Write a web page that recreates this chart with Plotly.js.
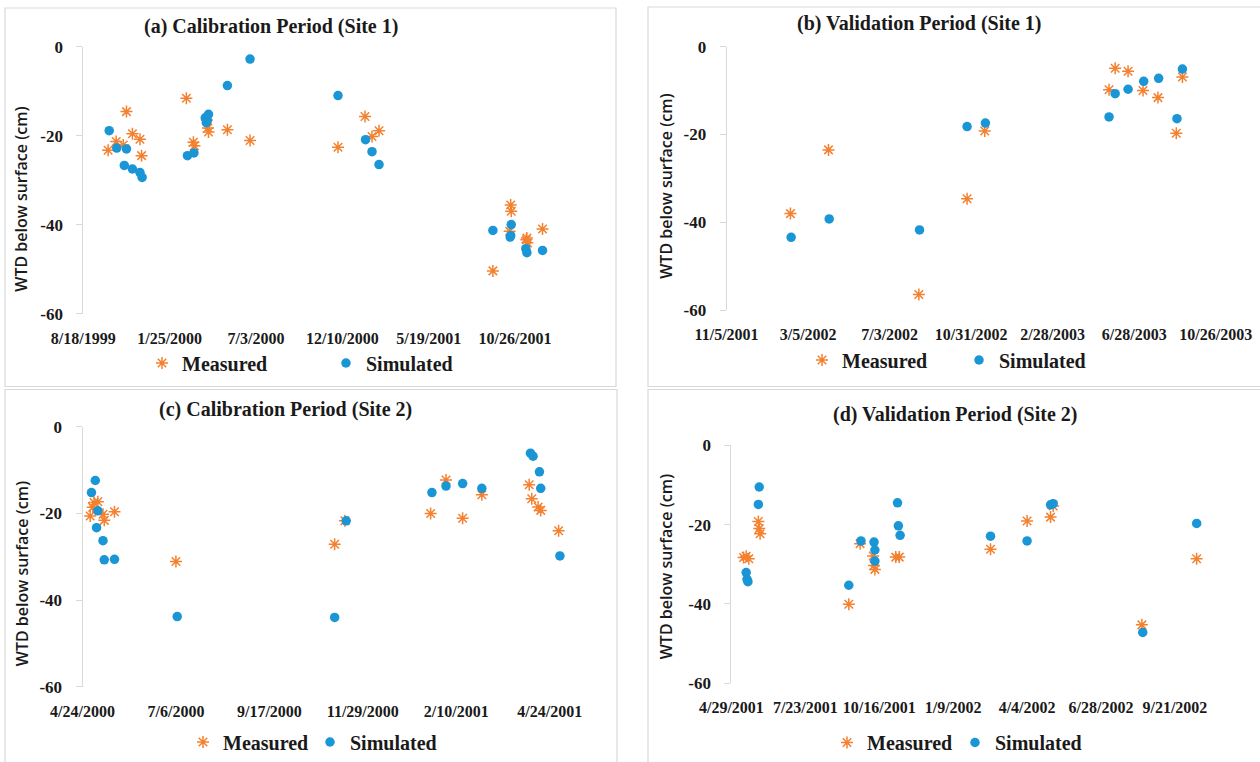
<!DOCTYPE html>
<html>
<head>
<meta charset="utf-8">
<script src="https://cdn.plot.ly/plotly-3.0.1.min.js"></script>
<style>
html,body{margin:0;padding:0;background:#fff;}
#chart{width:1260px;height:762px;}
</style>
</head>
<body>
<div id="chart"></div>
<script>
// ---------- DATA ----------
const seriesNames = ['Measured', 'Simulated'];
const panelTitles = ['(a) Calibration Period (Site 1)', '(b) Validation Period (Site 1)',
                     '(c) Calibration Period (Site 2)', '(d) Validation Period (Site 2)'];
const yTitle = 'WTD below surface (cm)';
const yTickVals = [-60, -40, -20, 0];
const yTickText = ['-60', '-40', '-20', '0'];

// Panel (a) Calibration, Site 1
const aMeasDates = ['1999-10-03','1999-10-18','1999-10-31','1999-11-06','1999-11-17','1999-12-01','1999-12-04',
  '2000-02-25','2000-03-09','2000-03-11','2000-04-03','2000-04-05','2000-04-06','2000-05-11','2000-06-22',
  '2000-12-02','2001-01-21','2001-02-03','2001-02-16',
  '2001-09-15','2001-10-18','2001-10-19','2001-10-16','2001-11-16','2001-11-17','2001-11-18','2001-12-16'];
const aMeasVals = [-23.3,-21.3,-22.1,-14.6,-19.6,-20.8,-24.5,
  -11.6,-21.5,-22.3,-16.5,-18.3,-19.2,-18.7,-21.1,
  -22.6,-15.7,-20.2,-18.9,
  -50.4,-35.6,-37.0,-41.5,-43.4,-43.0,-44.1,-41.0];
const aSimDates = ['1999-10-05','1999-10-19','1999-11-06','1999-11-02','1999-11-17','1999-12-01','1999-12-05',
  '2000-02-27','2000-03-10','2000-03-31','2000-04-02','2000-04-04','2000-04-06','2000-05-11','2000-06-22',
  '2000-12-02','2001-01-22','2001-02-03','2001-02-16',
  '2001-09-15','2001-10-18','2001-10-19','2001-10-17','2001-11-15','2001-11-17','2001-12-16'];
const aSimVals = [-18.9,-22.8,-23.0,-26.7,-27.5,-28.3,-29.4,
  -24.5,-23.9,-16.0,-17.1,-16.6,-15.2,-8.75,-2.8,
  -11.0,-20.9,-23.6,-26.5,
  -41.3,-42.5,-40.0,-42.8,-45.4,-46.3,-45.8];

// Panel (b) Validation, Site 1
const bMeasDates = ['2002-02-07','2002-04-04','2002-08-15','2002-10-25','2002-11-20',
  '2003-05-22','2003-05-31','2003-06-19','2003-07-11','2003-08-02','2003-08-29','2003-09-07'];
const bMeasVals = [-38.0,-23.5,-56.4,-34.6,-19.2,-9.8,-4.9,-5.6,-10.0,-11.6,-19.7,-6.9];
const bSimDates = ['2002-02-08','2002-04-05','2002-08-16','2002-10-25','2002-11-21',
  '2003-05-22','2003-05-31','2003-06-19','2003-07-12','2003-08-03','2003-08-30','2003-09-07'];
const bSimVals = [-43.4,-39.2,-41.7,-18.2,-17.4,-16.0,-10.7,-9.7,-7.9,-7.2,-16.4,-5.1];

// Panel (c) Calibration, Site 2
const cMeasDates = ['2000-04-30','2000-05-03','2000-05-06','2000-05-02','2000-05-10','2000-05-11','2000-05-19',
  '2000-07-06','2000-11-07','2000-11-15','2001-01-21','2001-02-02','2001-02-15','2001-03-02',
  '2001-04-08','2001-04-10','2001-04-15','2001-04-17','2001-05-01'];
const cMeasVals = [-20.6,-17.5,-17.3,-18.6,-20.2,-21.6,-19.6,
  -31.1,-27.1,-21.7,-20.0,-12.3,-21.1,-15.7,
  -13.4,-16.6,-18.5,-19.3,-24.0];
const cSimDates = ['2000-05-01','2000-05-04','2000-05-06','2000-05-05','2000-05-10','2000-05-11','2000-05-19',
  '2000-07-07','2000-11-07','2000-11-16','2001-01-22','2001-02-02','2001-02-15','2001-03-02',
  '2001-04-09','2001-04-11','2001-04-16','2001-04-17','2001-05-02'];
const cSimVals = [-15.2,-12.4,-19.4,-23.3,-26.3,-30.7,-30.6,
  -43.8,-44.0,-21.7,-15.2,-13.7,-13.1,-14.2,
  -6.1,-6.8,-10.4,-14.2,-29.8];

// Panel (d) Validation, Site 2
const dMeasDates = ['2001-05-13','2001-05-16','2001-05-19','2001-05-30','2001-05-31','2001-06-01',
  '2001-09-11','2001-09-24','2001-10-09','2001-10-10','2001-10-11','2001-11-04','2001-11-08',
  '2002-02-21','2002-04-04','2002-05-01','2002-05-04','2002-08-14','2002-10-16'];
const dMeasVals = [-28.3,-28.0,-28.6,-19.2,-21.0,-22.3,
  -40.1,-24.8,-27.9,-30.3,-31.3,-28.2,-28.2,
  -26.2,-19.1,-18.1,-15.3,-45.3,-28.6];
const dSimDates = ['2001-05-16','2001-05-17','2001-05-18','2001-05-30','2001-05-31',
  '2001-09-11','2001-09-25','2001-10-10','2001-10-11','2001-10-11','2001-11-06','2001-11-07','2001-11-09',
  '2002-02-21','2002-04-04','2002-05-01','2002-05-04','2002-08-15','2002-10-16'];
const dSimVals = [-32.1,-33.8,-34.4,-14.9,-10.5,
  -35.3,-24.1,-24.4,-26.4,-29.2,-14.5,-20.3,-22.7,
  -22.9,-24.1,-15.0,-14.7,-47.2,-19.7];

// Date axis settings (first tick, spacing in days, axis end)
const xStarts = ['1999-08-18', '2001-11-05', '2000-04-24', '2001-04-29'];
const xEnds   = ['2002-02-16', '2003-10-26', '2001-05-08', '2002-10-31'];
const xStepDays = [160, 120, 73, 85];

// ---------- STYLE / LAYOUT ----------
const W = 1260, H = 762;
const px = v => v / W;
const py = v => 1 - v / H;
const ORANGE = '#F4812F', BLUE = '#1A95D5', GRID = '#d9d9d9', TXT = '#1a1a1a';
const SERIF = 'Liberation Serif, Times New Roman, serif';
const SANS = 'Open Sans, Noto Sans, sans-serif';
const DAY = 86400000;

// plot areas in pixels: [left, right, top(0 cm), bottom(-60 cm)]
const areas = [[83.3, 576, 46.7, 314], [726.6, 1215.7, 46.7, 310.7],
               [82.5, 567.6, 427.3, 687.7], [731.4, 1209.7, 446, 684]];
const titlePos = [[271, 26.7], [919, 23.3], [285, 410], [955, 415]];
const yTitlePos = [[21, 200], [666, 187], [22, 575], [666, 568]];
const legendPos = [[142, 363], [802, 360], [183, 742], [827, 743]];
const legendEntry = [139, 112, 82, 83];
const borders = [[5, 616, 8, 387], [648, 1265, 7, 387], [5, 617, 390, 770], [648, 1265, 390, 770]];

const measured = [[aMeasDates, aMeasVals], [bMeasDates, bMeasVals], [cMeasDates, cMeasVals], [dMeasDates, dMeasVals]];
const simulated = [[aSimDates, aSimVals], [bSimDates, bSimVals], [cSimDates, cSimVals], [dSimDates, dSimVals]];

const traces = [];
const layout = {
  width: W, height: H,
  margin: {l: 0, r: 0, t: 0, b: 0},
  paper_bgcolor: '#ffffff', plot_bgcolor: 'rgba(0,0,0,0)',
  showlegend: true,
  font: {family: SERIF, color: TXT},
  annotations: [], shapes: []
};

for (let i = 0; i < 4; i++) {
  const n = i + 1;
  const xa = n === 1 ? 'x' : 'x' + n;
  const ya = n === 1 ? 'y' : 'y' + n;
  const lg = n === 1 ? 'legend' : 'legend' + n;
  const ar = areas[i];

  traces.push({
    type: 'scatter', mode: 'markers', name: seriesNames[0],
    x: measured[i][0], y: measured[i][1], xaxis: xa, yaxis: ya, legend: lg,
    marker: {symbol: 'asterisk-open', size: 10, color: ORANGE, line: {color: ORANGE, width: 1.5}},
    cliponaxis: false, hoverinfo: 'skip'
  });
  traces.push({
    type: 'scatter', mode: 'markers', name: seriesNames[1],
    x: simulated[i][0], y: simulated[i][1], xaxis: xa, yaxis: ya, legend: lg,
    marker: {symbol: 'circle', size: 9.5, color: BLUE, line: {width: 0}},
    cliponaxis: false, hoverinfo: 'skip'
  });

  const xr = [xStarts[i], xEnds[i]];
  const xKey = n === 1 ? 'xaxis' : 'xaxis' + n;
  const yKey = n === 1 ? 'yaxis' : 'yaxis' + n;
  layout[xKey] = {
    type: 'date', domain: [px(ar[0]), px(ar[1])], anchor: ya, range: xr,
    tick0: xStarts[i], dtick: xStepDays[i] * DAY, tickformat: '%-m/%-d/%Y',
    tickangle: 0, ticks: '', showline: false, showgrid: false, zeroline: false,
    ticklabelstandoff: 13,
    tickfont: {family: SERIF, size: 16, color: TXT, weight: 'bold'}
  };
  // axis line at y = 0 (top) with tick marks
  const topKey = 'xaxis' + (n + 4);
  layout[topKey] = {
    type: 'date', overlaying: xa, anchor: ya, side: 'top', range: xr,
    tick0: xStarts[i], dtick: xStepDays[i] * DAY,
    showticklabels: false, ticks: 'inside', ticklen: 7, tickcolor: GRID, tickwidth: 1,
    showline: true, linecolor: GRID, linewidth: 1, showgrid: false, zeroline: false
  };
  layout[yKey] = {
    domain: [py(ar[3]), py(ar[2])], anchor: xa, range: [-60, 0],
    tickvals: yTickVals, ticktext: yTickText,
    ticks: 'outside', ticklen: 6, tickcolor: GRID, tickwidth: 1,
    showline: true, linecolor: GRID, linewidth: 1, showgrid: false, zeroline: false,
    ticklabelstandoff: 10,
    tickfont: {family: SERIF, size: 17, color: TXT, weight: 'bold'}
  };
  layout[lg] = {
    orientation: 'h', x: px(legendPos[i][0]), y: py(legendPos[i][1]),
    xanchor: 'left', yanchor: 'middle', bgcolor: 'rgba(0,0,0,0)',
    entrywidth: legendEntry[i], entrywidthmode: 'pixels',
    font: {family: SERIF, size: 20, color: TXT, weight: 'bold'}
  };

  layout.annotations.push({
    text: '<b>' + panelTitles[i] + '</b>', xref: 'paper', yref: 'paper',
    x: px(titlePos[i][0]), y: py(titlePos[i][1]), xanchor: 'center', yanchor: 'middle',
    showarrow: false, font: {family: SERIF, size: 20, color: TXT}
  });
  layout.annotations.push({
    text: yTitle, xref: 'paper', yref: 'paper', textangle: -90,
    x: px(yTitlePos[i][0]), y: py(yTitlePos[i][1]), xanchor: 'center', yanchor: 'middle',
    showarrow: false, font: {family: SANS, size: 16, color: TXT, weight: 600}
  });
  const b = borders[i];
  layout.shapes.push({
    type: 'rect', xref: 'paper', yref: 'paper', layer: 'below',
    x0: px(b[0]), x1: px(b[1]), y0: py(b[3]), y1: py(b[2]),
    line: {color: GRID, width: 1.2}, fillcolor: 'rgba(0,0,0,0)'
  });
}

Plotly.newPlot('chart', traces, layout, {staticPlot: true, displayModeBar: false});
</script>
</body>
</html>
